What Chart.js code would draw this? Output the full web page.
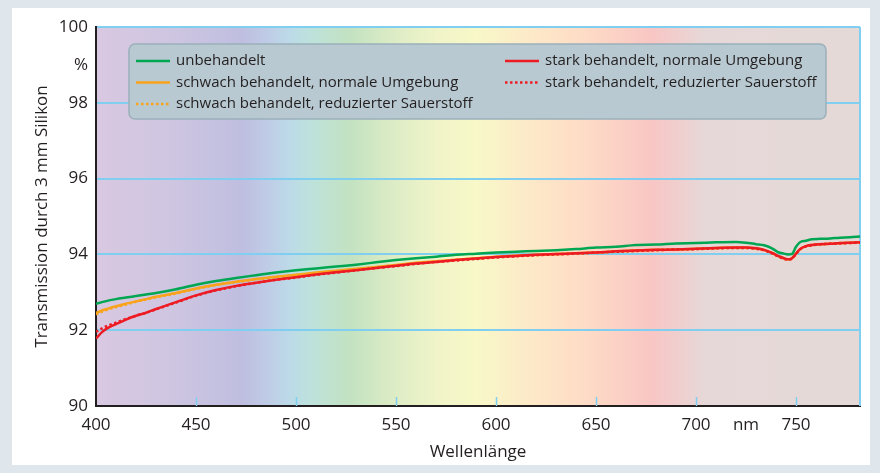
<!DOCTYPE html>
<html>
<head>
<meta charset="utf-8">
<script src="https://cdn.jsdelivr.net/npm/chart.js@4.4.1/dist/chart.umd.min.js"></script>
<style>
html, body { margin: 0; padding: 0; background: #dfe6ec; }
#frame { position: absolute; left: 12px; top: 8px; width: 858px; height: 457px; background: #ffffff; }
#wrap { position: absolute; left: 0; top: 0; width: 880px; height: 473px; }
</style>
</head>
<body>
<div id="frame"></div>
<div id="wrap"><canvas id="transmission" width="880" height="473"></canvas></div>
<script>
// Wellenlänge in nm
const wavelengths = [400, 403, 406, 410, 415, 420, 425, 430, 440, 450, 460, 470, 480, 490, 500, 510, 520, 530, 540, 550,
  560, 570, 580, 590, 600, 610, 620, 630, 640, 650, 660, 670, 680, 690, 700, 710, 720, 725, 730, 734,
  738, 741, 744, 746, 748, 750, 752, 755, 758, 762, 767, 772, 777, 782];

const unbehandelt = [92.70, 92.74, 92.78, 92.82, 92.86, 92.90, 92.94, 92.98, 93.08, 93.20, 93.30, 93.38, 93.45, 93.52, 93.58, 93.63, 93.68, 93.73, 93.79, 93.85,
  93.90, 93.94, 93.99, 94.02, 94.05, 94.07, 94.09, 94.11, 94.14, 94.18, 94.20, 94.25, 94.26, 94.29, 94.30, 94.32, 94.33, 94.31, 94.27, 94.24,
  94.16, 94.06, 94.02, 94.00, 94.01, 94.20, 94.32, 94.36, 94.40, 94.41, 94.42, 94.44, 94.45, 94.47];

const schwachNormal = [92.45, 92.52, 92.57, 92.63, 92.70, 92.76, 92.82, 92.88, 92.98, 93.10, 93.20, 93.28, 93.35, 93.41, 93.46, 93.52, 93.57, 93.62, 93.67, 93.72,
  93.78, 93.82, 93.86, 93.90, 93.94, 93.97, 93.99, 94.01, 94.03, 94.05, 94.08, 94.10, 94.12, 94.13, 94.15, 94.17, 94.18, 94.18, 94.16, 94.12,
  94.04, 93.96, 93.90, 93.87, 93.90, 94.02, 94.14, 94.22, 94.25, 94.27, 94.28, 94.30, 94.31, 94.32];

const schwachReduziert = [92.42, 92.49, 92.55, 92.61, 92.68, 92.75, 92.81, 92.87, 92.97, 93.09, 93.19, 93.27, 93.34, 93.40, 93.45, 93.51, 93.56, 93.61, 93.66, 93.71,
  93.77, 93.81, 93.86, 93.89, 93.93, 93.96, 93.98, 94.00, 94.02, 94.04, 94.07, 94.09, 94.11, 94.13, 94.14, 94.16, 94.17, 94.17, 94.15, 94.11,
  94.03, 93.95, 93.89, 93.86, 93.89, 94.01, 94.13, 94.21, 94.24, 94.26, 94.28, 94.29, 94.30, 94.31];

const starkNormal = [91.78, 91.95, 92.06, 92.16, 92.28, 92.38, 92.46, 92.56, 92.74, 92.92, 93.06, 93.17, 93.25, 93.33, 93.40, 93.47, 93.53, 93.58, 93.64, 93.70,
  93.76, 93.80, 93.85, 93.89, 93.93, 93.96, 93.99, 94.01, 94.03, 94.05, 94.08, 94.10, 94.12, 94.13, 94.15, 94.17, 94.18, 94.18, 94.16, 94.12,
  94.04, 93.96, 93.90, 93.87, 93.90, 94.02, 94.14, 94.22, 94.25, 94.27, 94.28, 94.30, 94.31, 94.32];

const starkReduziert = [91.96, 92.05, 92.12, 92.20, 92.30, 92.38, 92.46, 92.55, 92.73, 92.91, 93.05, 93.16, 93.25, 93.33, 93.39, 93.46, 93.52, 93.58, 93.64, 93.69,
  93.75, 93.80, 93.84, 93.88, 93.92, 93.95, 93.98, 94.00, 94.02, 94.05, 94.07, 94.09, 94.11, 94.13, 94.14, 94.16, 94.17, 94.17, 94.15, 94.11,
  94.03, 93.95, 93.88, 93.86, 93.89, 94.01, 94.13, 94.21, 94.24, 94.27, 94.28, 94.29, 94.30, 94.31];

const xTicks = [400, 450, 500, 550, 600, 650, 700, 750];
const yTicks = [90, 92, 94, 96, 98, 100];
const xUnit = { value: 725, label: 'nm' };
const yUnit = { value: 99, label: '%' };

// Spektrum im Hintergrund (nm -> Farbe)
const spectrumNm = [400, 436, 473, 485, 497, 507, 527, 551, 570, 590, 619, 644, 678, 705, 782];
const spectrumColors = ['#d9c8e1', '#cfc6e1', '#bfbee0', '#bfcbe6', '#bcdae8', '#bde2dc', '#c3e2c1', '#dfedc6', '#f0f4c8',
  '#f8f8c8', '#fde8c8', '#fedcc6', '#f8c6c4', '#e6d8d8', '#e4d9d7'];

const font = "'Open Sans', sans-serif";
const inkColor = '#231f20';
const gridBlue = '#80cff0';

function points(values) {
  return values.map((v, i) => ({ x: wavelengths[i], y: v }));
}

const spectrumBackground = {
  id: 'spectrumBackground',
  beforeDraw(chart) {
    const { ctx, chartArea } = chart;
    const xs = chart.scales.x;
    const grad = ctx.createLinearGradient(chartArea.left, 0, chartArea.right, 0);
    const w = chartArea.right - chartArea.left;
    spectrumNm.forEach((nm, i) => {
      const t = (xs.getPixelForValue(nm) - chartArea.left) / w;
      grad.addColorStop(Math.min(1, Math.max(0, t)), spectrumColors[i]);
    });
    ctx.save();
    ctx.fillStyle = grad;
    ctx.fillRect(chartArea.left, chartArea.top, w, chartArea.bottom - chartArea.top);
    ctx.restore();
  }
};

const axisDecor = {
  id: 'axisDecor',
  beforeDatasetsDraw(chart) {
    const { ctx, chartArea } = chart;
    const xs = chart.scales.x;
    ctx.save();
    ctx.strokeStyle = gridBlue;
    ctx.lineWidth = 1.5;
    xTicks.forEach(v => {
      if (v === xs.min) return;
      const px = Math.round(xs.getPixelForValue(v)) + 0.5;
      ctx.beginPath();
      ctx.moveTo(px, chartArea.bottom);
      ctx.lineTo(px, chartArea.bottom - 9);
      ctx.stroke();
    });
    ctx.lineWidth = 2;
    ctx.beginPath();
    ctx.moveTo(chartArea.right, chartArea.top);
    ctx.lineTo(chartArea.right, chartArea.bottom);
    ctx.stroke();
    ctx.restore();
  }
};

const boxLegend = {
  id: 'boxLegend',
  afterDraw(chart) {
    const { ctx, chartArea } = chart;
    const left = chartArea.left + 33;
    const top = chartArea.top + 17;
    const width = 697;
    const height = 75;
    ctx.save();
    ctx.fillStyle = '#b8c9d1';
    ctx.strokeStyle = '#9bb0ba';
    ctx.lineWidth = 1.5;
    ctx.beginPath();
    ctx.roundRect(left, top, width, height, 6);
    ctx.fill();
    ctx.stroke();

    const columns = [[0, 1, 2], [3, 4]];
    const colX = [left + 7, left + 376];
    ctx.font = '15px ' + font;
    ctx.textBaseline = 'middle';
    columns.forEach((items, c) => {
      items.forEach((idx, r) => {
        const ds = chart.data.datasets[idx];
        const y = top + 17 + r * 21.5;
        ctx.strokeStyle = ds.borderColor;
        ctx.lineWidth = 2.5;
        ctx.setLineDash(ds.borderDash || []);
        ctx.beginPath();
        ctx.moveTo(colX[c], y);
        ctx.lineTo(colX[c] + 34, y);
        ctx.stroke();
        ctx.setLineDash([]);
        ctx.fillStyle = inkColor;
        ctx.fillText(ds.label, colX[c] + 40, y);
      });
    });
    ctx.restore();
  }
};

new Chart(document.getElementById('transmission'), {
  type: 'line',
  data: {
    datasets: [{
      label: 'unbehandelt',
      data: points(unbehandelt),
      borderColor: '#00a651',
      borderWidth: 2.5,
      order: 0
    }, {
      label: 'schwach behandelt, normale Umgebung',
      data: points(schwachNormal),
      borderColor: '#f9a31b',
      borderWidth: 2.5,
      order: 4
    }, {
      label: 'schwach behandelt, reduzierter Sauerstoff',
      data: points(schwachReduziert),
      borderColor: '#f9a31b',
      borderWidth: 2.5,
      borderDash: [2.5, 2.5],
      order: 3
    }, {
      label: 'stark behandelt, normale Umgebung',
      data: points(starkNormal),
      borderColor: '#ed1c24',
      borderWidth: 2.5,
      order: 2
    }, {
      label: 'stark behandelt, reduzierter Sauerstoff',
      data: points(starkReduziert),
      borderColor: '#ed1c24',
      borderWidth: 2.5,
      borderDash: [2.5, 2.5],
      order: 1
    }]
  },
  options: {
    responsive: false,
    animation: false,
    parsing: false,
    elements: {
      point: { radius: 0 },
      line: { tension: 0, cubicInterpolationMode: 'monotone', fill: false }
    },
    layout: { padding: { left: 28, right: 20, top: 27, bottom: 8 } },
    plugins: {
      legend: { display: false },
      tooltip: { enabled: false }
    },
    scales: {
      x: {
        type: 'linear',
        min: 400,
        max: 782,
        afterBuildTicks(scale) {
          scale.ticks = xTicks.concat([xUnit.value]).sort((a, b) => a - b).map(v => ({ value: v }));
        },
        afterFit(scale) { scale.height = 59; },
        ticks: {
          autoSkip: false,
          maxRotation: 0,
          padding: 9,
          color: inkColor,
          font: { family: font, size: 17 },
          callback: v => (v === xUnit.value ? xUnit.label : v)
        },
        grid: { drawOnChartArea: false, drawTicks: false },
        border: { color: inkColor, width: 2 },
        title: {
          display: true,
          text: 'Wellenlänge',
          color: inkColor,
          font: { family: font, size: 17 },
          padding: { top: 0, bottom: 3 }
        }
      },
      y: {
        min: 90,
        max: 100,
        afterBuildTicks(scale) {
          scale.ticks = yTicks.concat([yUnit.value]).sort((a, b) => a - b).map(v => ({ value: v }));
        },
        afterFit(scale) { scale.width = 68; },
        ticks: {
          autoSkip: false,
          padding: 8,
          color: inkColor,
          font: { family: font, size: 17 },
          callback: v => (v === yUnit.value ? yUnit.label : v)
        },
        grid: {
          drawTicks: false,
          lineWidth: 2,
          color: ctx => (ctx.tick && (ctx.tick.value === yUnit.value || ctx.tick.value === 90) ? 'rgba(0,0,0,0)' : gridBlue)
        },
        border: { color: inkColor, width: 2 },
        title: {
          display: true,
          text: 'Transmission durch 3 mm Silikon',
          color: inkColor,
          font: { family: font, size: 17 },
          padding: { top: 4, bottom: 0 }
        }
      }
    }
  },
  plugins: [spectrumBackground, axisDecor, boxLegend]
});
</script>
</body>
</html>
